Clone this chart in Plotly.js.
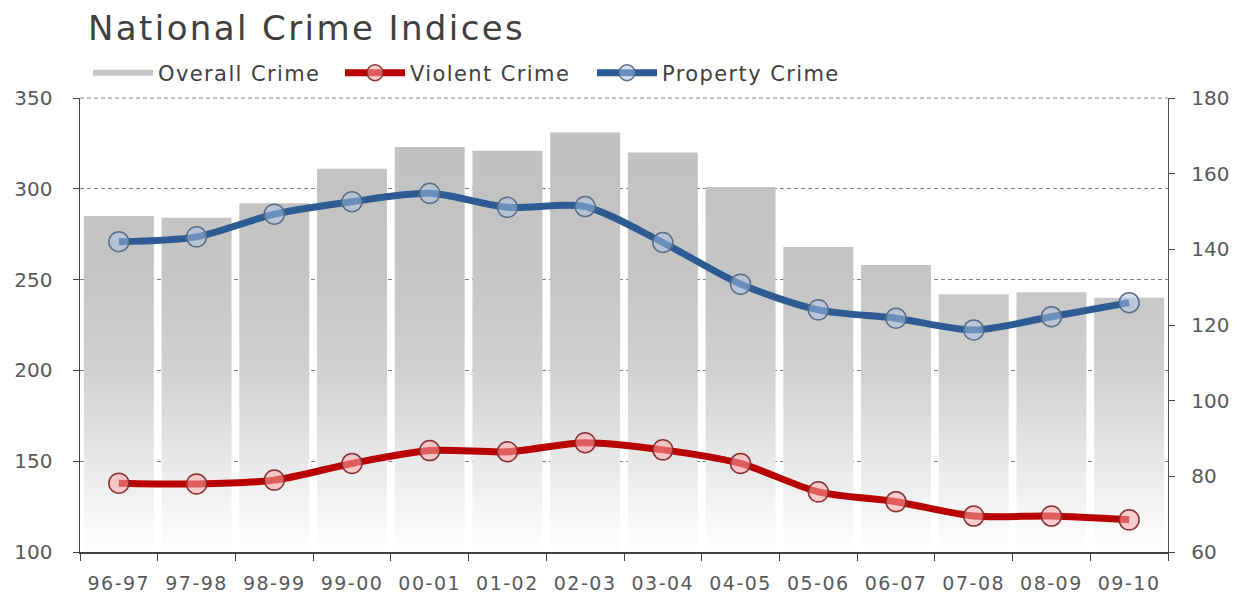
<!DOCTYPE html>
<html>
<head>
<meta charset="utf-8">
<script src="https://cdn.plot.ly/plotly-3.0.1.min.js"></script>
<style>
html,body{margin:0;padding:0;background:#fff;}
#chart{width:1251px;height:606px;}
</style>
</head>
<body>
<div id="chart"></div>
<script>
const categories = ['96-97','97-98','98-99','99-00','00-01','01-02','02-03','03-04','04-05','05-06','06-07','07-08','08-09','09-10'];
const overallCrime = [285, 284, 292, 311, 323, 321, 331, 320, 301, 268, 258, 242, 243, 240];
const violentCrime = [78.2, 78.0, 79.0, 83.4, 86.8, 86.5, 88.9, 87.0, 83.4, 75.9, 73.3, 69.5, 69.5, 68.5];
const propertyCrime = [142.0, 143.3, 149.3, 152.6, 154.8, 151.1, 151.3, 141.8, 130.8, 124.0, 121.8, 118.7, 122.2, 125.9];
const seriesNames = ['Overall Crime', 'Violent Crime', 'Property Crime'];
const leftTicks = [100, 150, 200, 250, 300, 350];
const rightTicks = [60, 80, 100, 120, 140, 160, 180];

const xTickFont = {family: 'DejaVu Sans', size: 19, color: '#595959'};
const yTickFont = {family: 'DejaVu Sans', size: 20, color: '#595959'};

const traces = [
  {
    type: 'scatter', mode: 'lines', name: seriesNames[0],
    x: [categories[0]], y: [null],
    line: {color: '#c6c6c6', width: 6},
    hoverinfo: 'skip', showlegend: true
  },
  {
    type: 'bar', name: seriesNames[0], x: categories, y: overallCrime,
    marker: {color: '#c8c8c8', line: {width: 0}},
    showlegend: false, yaxis: 'y'
  },
  {
    type: 'scatter', mode: 'lines+markers', name: seriesNames[1],
    x: categories, y: violentCrime, yaxis: 'y2',
    line: {color: '#b80000', width: 7, shape: 'spline', smoothing: 0.8},
    marker: {size: 20, color: 'rgba(255,170,170,0.55)', line: {color: '#8a3030', width: 1.5}}
  },
  {
    type: 'scatter', mode: 'lines+markers', name: seriesNames[2],
    x: categories, y: propertyCrime, yaxis: 'y2',
    line: {color: '#2d5b93', width: 7, shape: 'spline', smoothing: 0.8},
    marker: {size: 20, color: 'rgba(170,195,230,0.5)', line: {color: '#5b6e86', width: 1.5}}
  }
];

const layout = {
  width: 1251, height: 606,
  paper_bgcolor: '#ffffff', plot_bgcolor: 'rgba(0,0,0,0)',
  margin: {l: 80, r: 83, t: 98, b: 54},
  title: {
    text: 'National Crime Indices',
    font: {family: 'DejaVu Sans', size: 34, color: '#404040'},
    xref: 'container', x: 88/1251, xanchor: 'left',
    yref: 'container', y: 1 - 28/606, yanchor: 'middle'
  },
  showlegend: true,
  legend: {
    orientation: 'h', xref: 'container', yref: 'container',
    x: 88/1251, xanchor: 'left', y: 1 - 73/606, yanchor: 'middle',
    font: {family: 'DejaVu Sans', size: 21, color: '#404040'},
    itemwidth: 60, entrywidth: 177, entrywidthmode: 'pixels',
    traceorder: 'normal', bgcolor: 'rgba(0,0,0,0)'
  },
  bargap: 0.1,
  xaxis: {
    type: 'category', tickfont: xTickFont, range: [-0.5, categories.length - 0.5],
    showline: true, linecolor: '#404040', linewidth: 1.5,
    ticks: 'outside', ticklen: 7, tickcolor: '#404040', tickson: 'boundaries',
    ticklabelstandoff: 14,
    showgrid: false, fixedrange: true
  },
  yaxis: {
    range: [100, 350], tickvals: leftTicks, tickfont: yTickFont,
    showline: true, linecolor: '#404040', linewidth: 1.5,
    ticks: 'outside', ticklen: 6, tickcolor: '#404040',
    ticklabelstandoff: 16,
    showgrid: true, gridcolor: '#808080', gridwidth: 1, griddash: '4px,3px',
    zeroline: false, fixedrange: true
  },
  yaxis2: {
    range: [60, 180], tickvals: rightTicks, tickfont: yTickFont,
    overlaying: 'y', side: 'right',
    showline: true, linecolor: '#505050', linewidth: 1.2,
    ticks: 'outside', ticklen: 6, tickcolor: '#404040',
    ticklabelstandoff: 12,
    showgrid: false, zeroline: false, fixedrange: true
  },
  shapes: [
    {type: 'line', xref: 'paper', yref: 'y domain', x0: 0, x1: 1, y0: 1, y1: 1,
     line: {color: '#808080', width: 1, dash: '4px,3px'}, layer: 'below'}
  ]
};

function applyStyling(gd) {
  const svg = gd.querySelector('svg.main-svg');
  if (!svg) return;
  let defs = svg.querySelector('defs');
  if (!defs) {
    defs = document.createElementNS('http://www.w3.org/2000/svg', 'defs');
    svg.insertBefore(defs, svg.firstChild);
  }
  const plotH = gd._fullLayout._size.h;
  if (!svg.querySelector('#barGrad')) {
    const lg = document.createElementNS('http://www.w3.org/2000/svg', 'linearGradient');
    lg.setAttribute('id', 'barGrad');
    lg.setAttribute('gradientUnits', 'userSpaceOnUse');
    lg.setAttribute('x1', '0'); lg.setAttribute('x2', '0');
    lg.setAttribute('y1', '0'); lg.setAttribute('y2', String(plotH));
    const stops = [[0, '#c0c0c0'], [0.4, '#c5c5c5'], [0.6, '#d0d0d0'], [0.75, '#e2e2e2'], [0.87, '#f0f0f0'], [1, '#fefefe']];
    stops.forEach(function (s) {
      const st = document.createElementNS('http://www.w3.org/2000/svg', 'stop');
      st.setAttribute('offset', String(s[0]));
      st.setAttribute('stop-color', s[1]);
      lg.appendChild(st);
    });
    defs.appendChild(lg);
  }
  gd.querySelectorAll('.barlayer .point path').forEach(function (p) {
    p.style.fill = 'url(#barGrad)';
  });
  gd.querySelectorAll('.gtitle').forEach(function (t) { t.style.letterSpacing = '2.4px'; });
  gd.querySelectorAll('.legendtext').forEach(function (t) { t.style.letterSpacing = '1.4px'; });
  gd.querySelectorAll('.xtick text').forEach(function (t) { t.style.letterSpacing = '1.5px'; });
}

const gd = document.getElementById('chart');
Plotly.newPlot(gd, traces, layout, {displayModeBar: false, staticPlot: true}).then(function () {
  applyStyling(gd);
  gd.on('plotly_afterplot', function () { applyStyling(gd); });
});
</script>
</body>
</html>
